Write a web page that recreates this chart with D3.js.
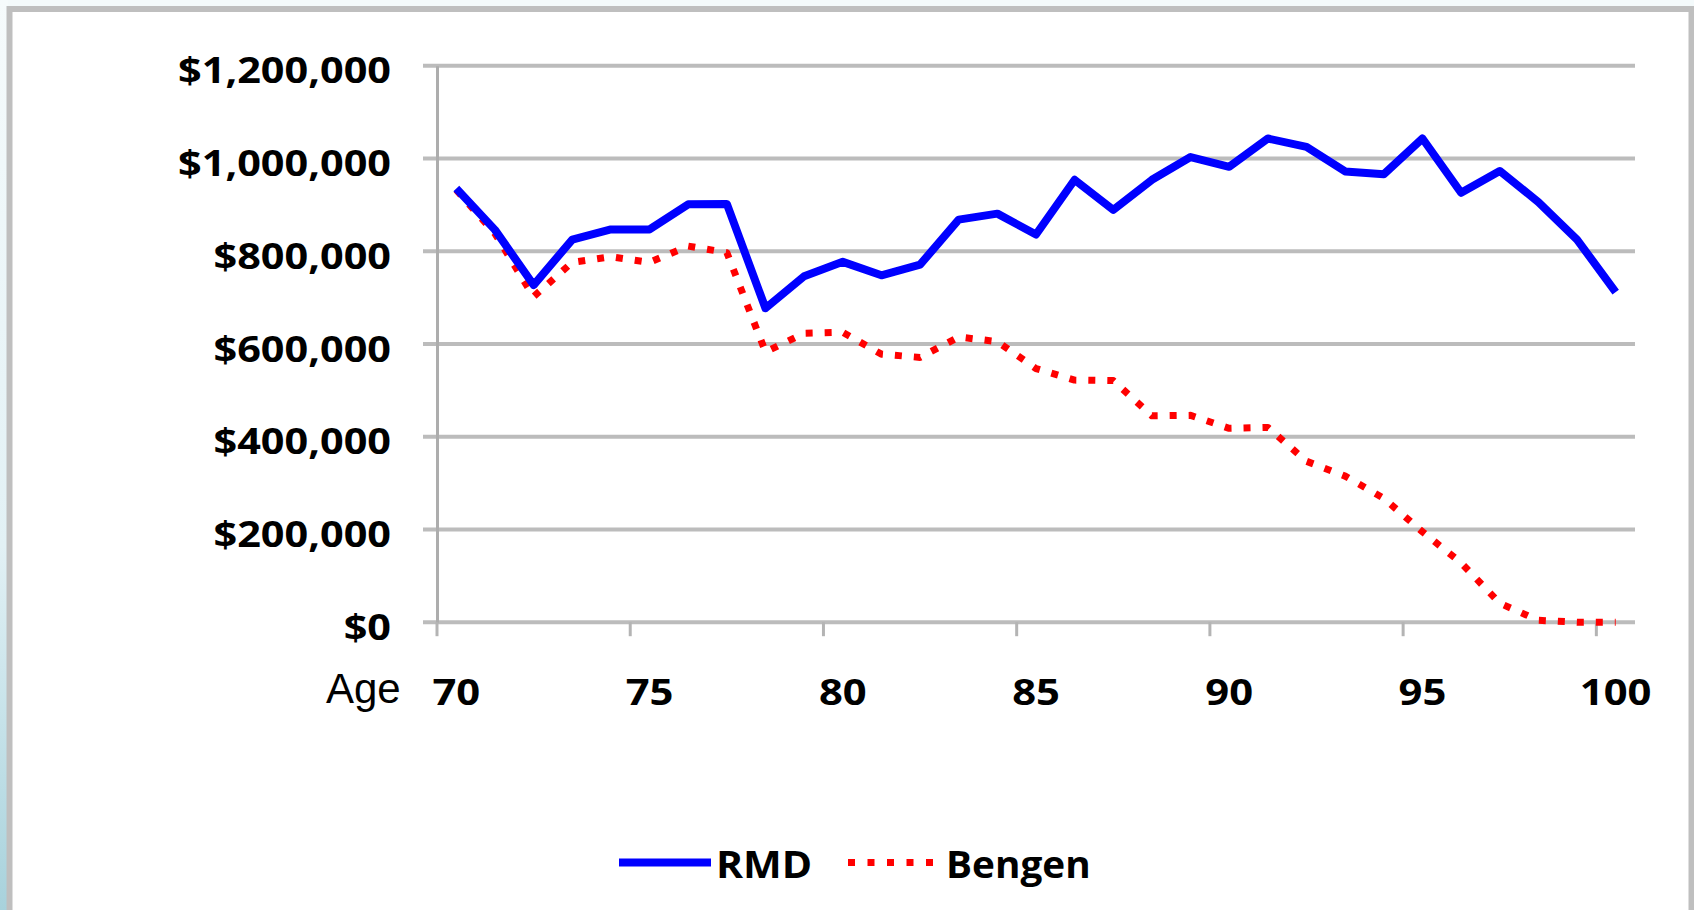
<!DOCTYPE html>
<html>
<head>
<meta charset="utf-8">
<script src="https://cdn.jsdelivr.net/npm/d3@7/dist/d3.min.js"></script>
<style>
  html, body { margin: 0; padding: 0; background: #ffffff; }
  svg { display: block; }
</style>
</head>
<body>
<svg id="chart" width="1694" height="910"></svg>
<script>
// ---- data ----
const ages = [70,71,72,73,74,75,76,77,78,79,80,81,82,83,84,85,86,87,88,89,90,91,92,93,94,95,96,97,98,99,100];
const rmdValues = [935000,846000,727000,825000,847000,847000,901000,902000,677000,746000,777000,748000,771000,868000,881000,836000,954000,889000,954000,1003000,982000,1043000,1025000,972000,966000,1043000,926000,973000,906000,825000,712000];
const bengenValues = [932000,838000,702000,776000,788000,776000,811000,797000,583000,623000,625000,578000,571000,615000,605000,547000,522000,521000,445000,446000,418000,420000,347000,315000,267000,195000,128000,41000,4000,0,0];
const yTickValues = [0,200000,400000,600000,800000,1000000,1200000];
const xLabelAges = [70,75,80,85,90,95,100];
const seriesNames = ["RMD", "Bengen"];
const seriesColors = ["#0000ff", "#ff0000"];

const svg = d3.select("#chart");
const W = 1694, H = 910;

function stretch(sel, k) {
  sel.each(function () {
    const L = this.getComputedTextLength();
    d3.select(this).attr("textLength", L * k).attr("lengthAdjust", "spacingAndGlyphs");
  });
}

// ---- background & frame ----
const defs = svg.append("defs");
const grad = defs.append("linearGradient").attr("id", "leftGrad").attr("x1", 0).attr("y1", 0).attr("x2", 0).attr("y2", 1);
grad.append("stop").attr("offset", "0%").attr("stop-color", "#f6fbfc");
grad.append("stop").attr("offset", "60%").attr("stop-color", "#e2f1f5");
grad.append("stop").attr("offset", "100%").attr("stop-color", "#a8d2dc");
svg.append("rect").attr("x", 0).attr("y", 0).attr("width", W).attr("height", H).attr("fill", "#f4fafb");
svg.append("rect").attr("x", 0).attr("y", 0).attr("width", 8).attr("height", H).attr("fill", "url(#leftGrad)");
svg.append("rect").attr("x", 9.5).attr("y", 9).attr("width", 1682).attr("height", H + 20)
  .attr("fill", "#ffffff").attr("stroke", "#bfbfbf").attr("stroke-width", 6);

// ---- scales ----
const x = d3.scaleBand().domain(ages).range([437, 1635]).padding(0);
const y = d3.scaleLinear().domain([0, 1200000]).range([622.2, 65.7]);
const cx = a => x(a) + x.bandwidth() / 2;

// ---- gridlines ----
svg.append("g").selectAll("line").data(yTickValues).join("line")
  .attr("x1", 423).attr("x2", 1635)
  .attr("y1", d => y(d)).attr("y2", d => y(d))
  .attr("stroke", "#bcbcbc").attr("stroke-width", 4);

// ---- y axis ----
const fmt = d => "$" + d3.format(",")(d);
const yAxis = svg.append("g").attr("transform", "translate(437,0)")
  .call(d3.axisLeft(y).tickValues(yTickValues).tickFormat(fmt).tickSize(0).tickSizeOuter(0).tickPadding(46));
yAxis.select(".domain").attr("stroke", "#adadad").attr("stroke-width", 3);
yAxis.selectAll("text")
  .attr("dy", "0.48em")
  .style("font-family", "'Open Sans', sans-serif")
  .style("font-weight", "700")
  .style("font-size", "36px")
  .attr("fill", "#000");
stretch(yAxis.selectAll("text"), 1.15);

// ---- x axis ----
svg.append("g").selectAll("line").data(xLabelAges).join("line")
  .attr("x1", d => x(d)).attr("x2", d => x(d))
  .attr("y1", y(0)).attr("y2", y(0) + 14)
  .attr("stroke", "#b4b4b4").attr("stroke-width", 3);
const xAxis = svg.append("g").attr("transform", `translate(0,${y(0)})`)
  .call(d3.axisBottom(x).tickValues(xLabelAges).tickSize(0).tickPadding(57));
xAxis.select(".domain").remove();
xAxis.selectAll("text")
  .style("font-family", "'Open Sans', sans-serif")
  .style("font-weight", "700")
  .style("font-size", "36px")
  .attr("fill", "#000");
stretch(xAxis.selectAll("text"), 1.16);

svg.append("text").attr("x", 326).attr("y", 703)
  .style("font-family", "'Liberation Sans', Arial, sans-serif")
  .style("font-size", "42px").attr("fill", "#000").text("Age");

// ---- lines ----
const line = d3.line().x((d, i) => cx(ages[i])).y(d => y(d));
svg.append("path").datum(bengenValues)
  .attr("d", line).attr("fill", "none")
  .attr("stroke", seriesColors[1]).attr("stroke-width", 7)
  .attr("stroke-dasharray", "7 12").attr("stroke-linejoin", "round");
svg.append("path").datum(rmdValues)
  .attr("d", line).attr("fill", "none")
  .attr("stroke", seriesColors[0]).attr("stroke-width", 8)
  .attr("stroke-linejoin", "round");

// ---- legend ----
const legend = svg.append("g");
legend.append("line").attr("x1", 619).attr("x2", 711).attr("y1", 862.5).attr("y2", 862.5)
  .attr("stroke", seriesColors[0]).attr("stroke-width", 8);
const t1 = legend.append("text").attr("x", 716).attr("y", 878).text(seriesNames[0]);
legend.append("line").attr("x1", 848).attr("x2", 940).attr("y1", 862.5).attr("y2", 862.5)
  .attr("stroke", seriesColors[1]).attr("stroke-width", 7).attr("stroke-dasharray", "7 12.5");
const t2 = legend.append("text").attr("x", 946).attr("y", 878).text(seriesNames[1]);
legend.selectAll("text")
  .style("font-family", "'Open Sans', sans-serif")
  .style("font-weight", "700")
  .style("font-size", "38px")
  .attr("fill", "#000");
stretch(t1, 1.08);
stretch(t2, 1.02);
</script>
</body>
</html>
